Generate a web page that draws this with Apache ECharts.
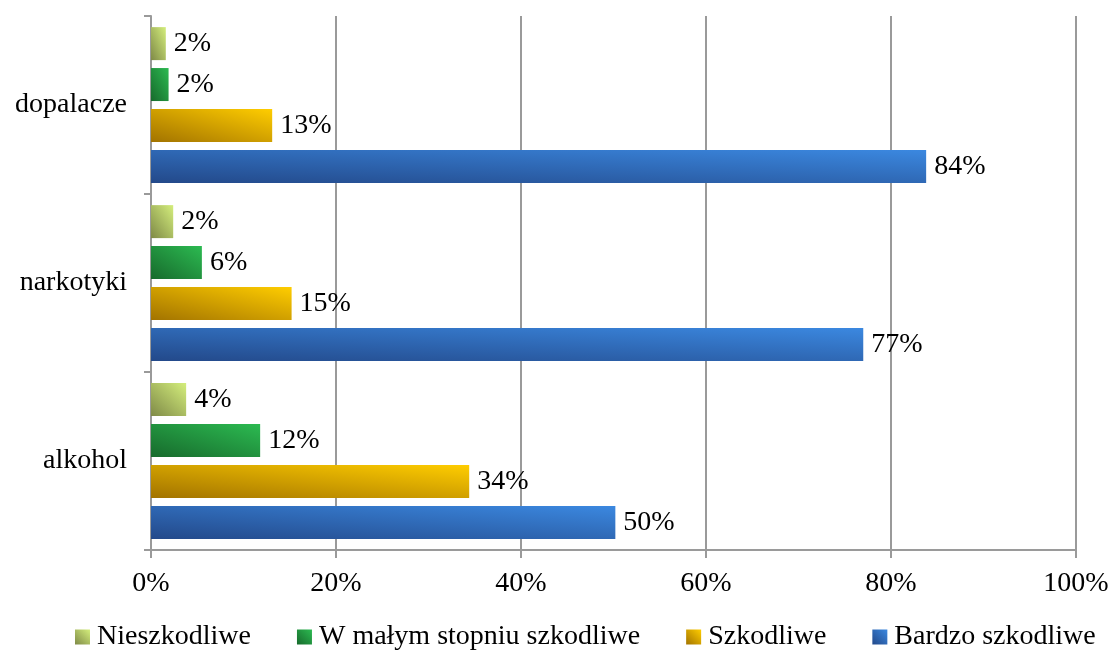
<!DOCTYPE html>
<html>
<head>
<meta charset="utf-8">
<script src="https://cdn.jsdelivr.net/npm/echarts@6/dist/echarts.min.js"></script>
<style>
html,body{margin:0;padding:0;background:#fff;}
#chart{width:1115px;height:655px;}
</style>
</head>
<body>
<div id="chart"></div>
<script>
// Data, categories from bottom to top
const categories = ['alkohol', 'narkotyki', 'dopalacze'];
const seriesNames = ['Nieszkodliwe', 'W małym stopniu szkodliwe', 'Szkodliwe', 'Bardzo szkodliwe'];
const nieszkodliwe = [3.8, 2.4, 1.6];
const wMalymStopniu = [11.8, 5.5, 1.9];
const szkodliwe = [34.4, 15.2, 13.1];
const bardzoSzkodliwe = [50.2, 77.0, 83.8];
const xTicks = [0, 20, 40, 60, 80, 100];

const FONT = 'Liberation Serif';
const BAR_H = 33;
const seriesValues = [nieszkodliwe, wMalymStopniu, szkodliwe, bardzoSzkodliwe];
// [top-right colour, bottom-left colour]
const gradients = [
  ['#d4ee7c', '#7f8a47'],
  ['#2cba51', '#176a2c'],
  ['#ffcd00', '#a27300'],
  ['#3b88e0', '#23498a']
];
// diagonal gradient scaled with the shape (bottom-left -> top-right)
function gradFor(c, W, H) {
  const t = 2 / (1 / (W * W) + 1 / (H * H));
  const x2 = t / (W * W);
  const y2 = 1 - t / (H * H);
  return new echarts.graphic.LinearGradient(0, 1, x2, y2, [
    {offset: 0, color: c[1]},
    {offset: 1, color: c[0]}
  ]);
}
function squareGrad(c) {
  return new echarts.graphic.LinearGradient(0, 1, 1, 0, [
    {offset: 0, color: c[1]},
    {offset: 1, color: c[0]}
  ]);
}

const chart = echarts.init(document.getElementById('chart'), null, {renderer: 'canvas'});
const option = {
  backgroundColor: '#ffffff',
  animation: false,
  textStyle: {fontFamily: FONT, color: '#000'},
  grid: {left: 151, right: 39, top: 16, bottom: 105, containLabel: false},
  legend: {
    data: seriesNames,
    left: 75,
    top: 623,
    padding: 0,
    itemWidth: 15,
    itemHeight: 15,
    itemGap: 46,
    icon: 'rect',
    textStyle: {fontFamily: FONT, fontSize: 28, color: '#000', padding: [0, 0, 0, 2]}
  },
  xAxis: {
    type: 'value',
    min: xTicks[0],
    max: xTicks[xTicks.length - 1],
    interval: 20,
    axisLine: {show: true, lineStyle: {color: '#9a9a9a', width: 2}},
    axisTick: {show: true, length: 8, lineStyle: {color: '#9a9a9a', width: 2}},
    splitLine: {show: true, lineStyle: {color: '#9a9a9a', width: 2}},
    axisLabel: {
      formatter: '{value}%',
      fontFamily: FONT, fontSize: 28, color: '#000', margin: 20
    }
  },
  yAxis: {
    type: 'category',
    data: categories,
    axisLine: {show: true, lineStyle: {color: '#9a9a9a', width: 2}},
    axisTick: {show: true, length: 7, lineStyle: {color: '#9a9a9a', width: 2}},
    axisLabel: {fontFamily: FONT, fontSize: 28, color: '#000', margin: 24}
  },
  series: seriesNames.map((name, i) => ({
    name: name,
    type: 'bar',
    data: seriesValues[i],
    barWidth: BAR_H,
    barGap: '24%',
    itemStyle: {color: squareGrad(gradients[i])},
    label: {
      show: true,
      position: 'right',
      distance: 8,
      fontFamily: FONT,
      fontSize: 28,
      color: '#000',
      formatter: p => Math.round(p.value) + '%'
    }
  }))
};
chart.setOption(option);

// per-bar gradient that stretches with the bar, using the chart's own scale
const x0 = chart.convertToPixel({gridIndex: 0}, [0, 0])[0];
chart.setOption({
  series: seriesNames.map((name, i) => ({
    data: seriesValues[i].map(v => {
      const W = Math.max(1, chart.convertToPixel({gridIndex: 0}, [v, 0])[0] - x0);
      return {value: v, itemStyle: {color: gradFor(gradients[i], W, BAR_H)}};
    })
  }))
});
</script>
</body>
</html>
